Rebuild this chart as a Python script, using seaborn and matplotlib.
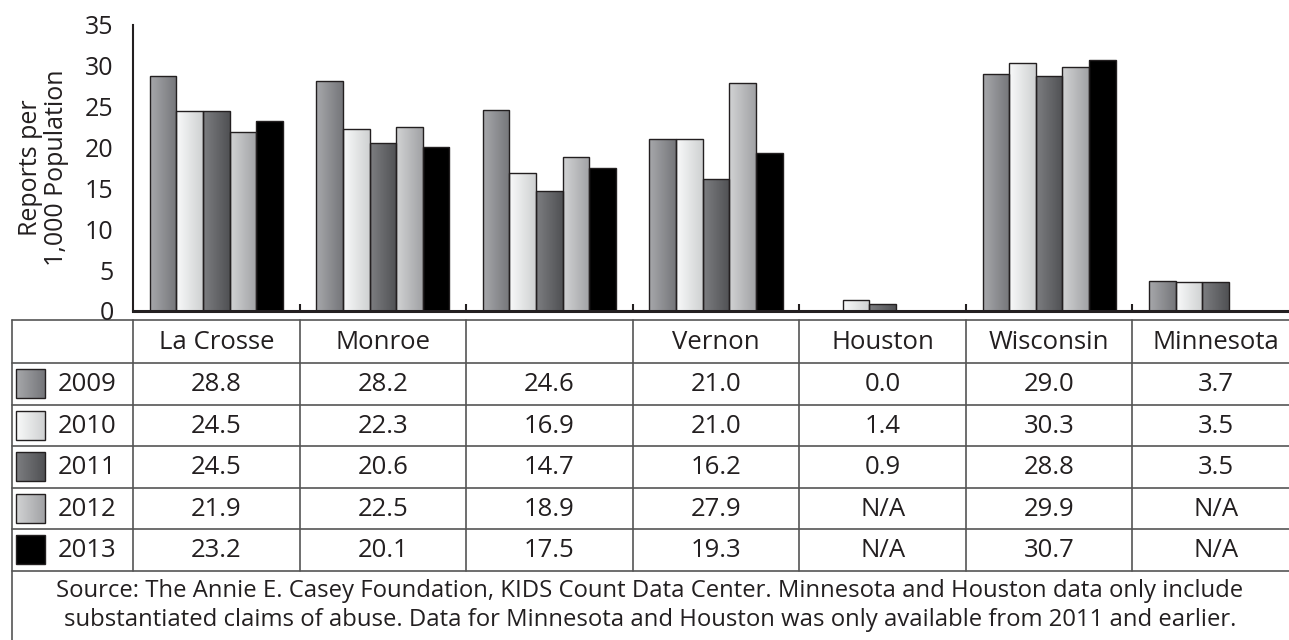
import numpy as np
import pandas as pd
import seaborn as sns
import matplotlib.pyplot as plt
from matplotlib.patches import Rectangle

regions = ['La Crosse', 'Monroe', '', 'Vernon', 'Houston', 'Wisconsin', 'Minnesota']
years = ['2009', '2010', '2011', '2012', '2013']
v2009 = [28.8, 28.2, 24.6, 21.0, 0.0, 29.0, 3.7]
v2010 = [24.5, 22.3, 16.9, 21.0, 1.4, 30.3, 3.5]
v2011 = [24.5, 20.6, 14.7, 16.2, 0.9, 28.8, 3.5]
v2012 = [21.9, 22.5, 18.9, 27.9, np.nan, 29.9, np.nan]
v2013 = [23.2, 20.1, 17.5, 19.3, np.nan, 30.7, np.nan]
yticks = [0, 5, 10, 15, 20, 25, 30, 35]
source = ('Source: The Annie E. Casey Foundation, KIDS Count Data Center. Minnesota and Houston data only include\n'
          'substantiated claims of abuse. Data for Minnesota and Houston was only available from 2011 and earlier.')

# left -> right gradient colours per year
grad_left = ['#a7a8ab', '#f9fafa', '#7d7e81', '#d2d3d4', '#000000']
grad_right = ['#75767a', '#cfd1d2', '#505154', '#a1a2a5', '#000000']

values = [v2009, v2010, v2011, v2012, v2013]
rows = []
for y, vals in zip(years, values):
    for r, v in zip(regions, vals):
        rows.append({'region': r, 'year': y, 'value': v})
df = pd.DataFrame(rows)


def gradient(c0, c1, n=64):
    a = np.array(plt.matplotlib.colors.to_rgb(c0))
    b = np.array(plt.matplotlib.colors.to_rgb(c1))
    t = np.linspace(0, 1, n)[:, None]
    return (a + (b - a) * t)[None, :, :]


sns.set_style('white')
plt.rcParams['font.family'] = ['Open Sans', 'DejaVu Sans']
ink = '#231f20'
grid = '#555555'

W, H = 1289, 640
fig = plt.figure(figsize=(W / 100, H / 100), dpi=100)

# table / background layer in pixel coordinates
tab = fig.add_axes([0, 0, 1, 1])
tab.set_xlim(0, W)
tab.set_ylim(H, 0)
tab.axis('off')

x0, cw = 133, 166.57
col_edges = [12] + [x0 + k * cw for k in range(8)]
row_edges = [320, 363, 404.5, 446, 487.5, 529, 570.5]

for y in row_edges:
    tab.plot([12, W], [y, y], color=grid, lw=1.2)
for x in col_edges[1:-1]:
    tab.plot([x, x], [row_edges[0], row_edges[-1]], color=grid, lw=1.2)
tab.plot([12, 12], [row_edges[0], H], color=grid, lw=1.2)

fs = 18.5
for i, r in enumerate(regions):
    cx = (col_edges[i + 1] + col_edges[i + 2]) / 2
    tab.text(cx, (row_edges[0] + row_edges[1]) / 2 + 1, r, ha='center', va='center', fontsize=fs, color=ink)

for j, (y, vals) in enumerate(zip(years, values)):
    cy = (row_edges[j + 1] + row_edges[j + 2]) / 2
    tab.imshow(gradient(grad_left[j], grad_right[j]), extent=(16, 45, cy + 14.5, cy - 14.5),
               aspect='auto', interpolation='bilinear', zorder=2)
    tab.add_patch(Rectangle((16, cy - 14.5), 29, 29, fill=False, ec=ink, lw=1.0, zorder=3))
    tab.text(58, cy + 1, y, ha='left', va='center', fontsize=fs, color=ink)
    for i, v in enumerate(vals):
        cx = (col_edges[i + 1] + col_edges[i + 2]) / 2
        s = 'N/A' if np.isnan(v) else f'{v:.1f}'
        tab.text(cx, cy + 1, s, ha='center', va='center', fontsize=fs, color=ink)

tab.text(650, (row_edges[-1] + H) / 2, source, ha='center', va='center', fontsize=17.2,
         color=ink, linespacing=1.25)
tab.set_xlim(0, W)
tab.set_ylim(H, 0)

# chart
ax = fig.add_axes([x0 / W, (H - 311) / H, 7 * cw / W, (311 - 25) / H])
ax.patch.set_alpha(0)
sns.barplot(data=df, x='region', y='value', hue='year', order=regions, hue_order=years,
            palette=grad_left, width=0.8, gap=0, edgecolor=ink, linewidth=1.0,
            errorbar=None, legend=False, ax=ax)

for j, cont in enumerate(ax.containers):
    for bar in cont:
        h = bar.get_height()
        if np.isnan(h) or h <= 0:
            continue
        bx, bw = bar.get_x(), bar.get_width()
        im = ax.imshow(gradient(grad_left[j], grad_right[j]), extent=(bx, bx + bw, 0, h),
                       aspect='auto', interpolation='bilinear', zorder=bar.get_zorder() - 0.1)
        im.set_clip_path(bar)
        bar.set_facecolor('none')

ax.set_xlim(-0.5, 6.5)
ax.set_ylim(0, 35)
ax.set_yticks(yticks)
ax.set_yticklabels([str(t) for t in yticks])
ax.set_xticks([k + 0.5 for k in range(6)])
ax.set_xticklabels([])
ax.tick_params(axis='x', direction='in', length=5, width=1.5, color=ink, bottom=True)
ax.tick_params(axis='y', length=0, pad=14, labelsize=18, labelcolor=ink)
ax.set_xlabel('')
ax.set_ylabel('Reports per\n1,000 Population', fontsize=18, color=ink, linespacing=1.05)
ax.yaxis.set_label_coords(-64 / (7 * cw), 0.5)
for s in ['top', 'right']:
    ax.spines[s].set_visible(False)
ax.spines['left'].set_color(ink)
ax.spines['left'].set_linewidth(1.5)
ax.spines['bottom'].set_color(ink)
ax.spines['bottom'].set_linewidth(2.2)

fig.savefig('out.png', dpi=100)
